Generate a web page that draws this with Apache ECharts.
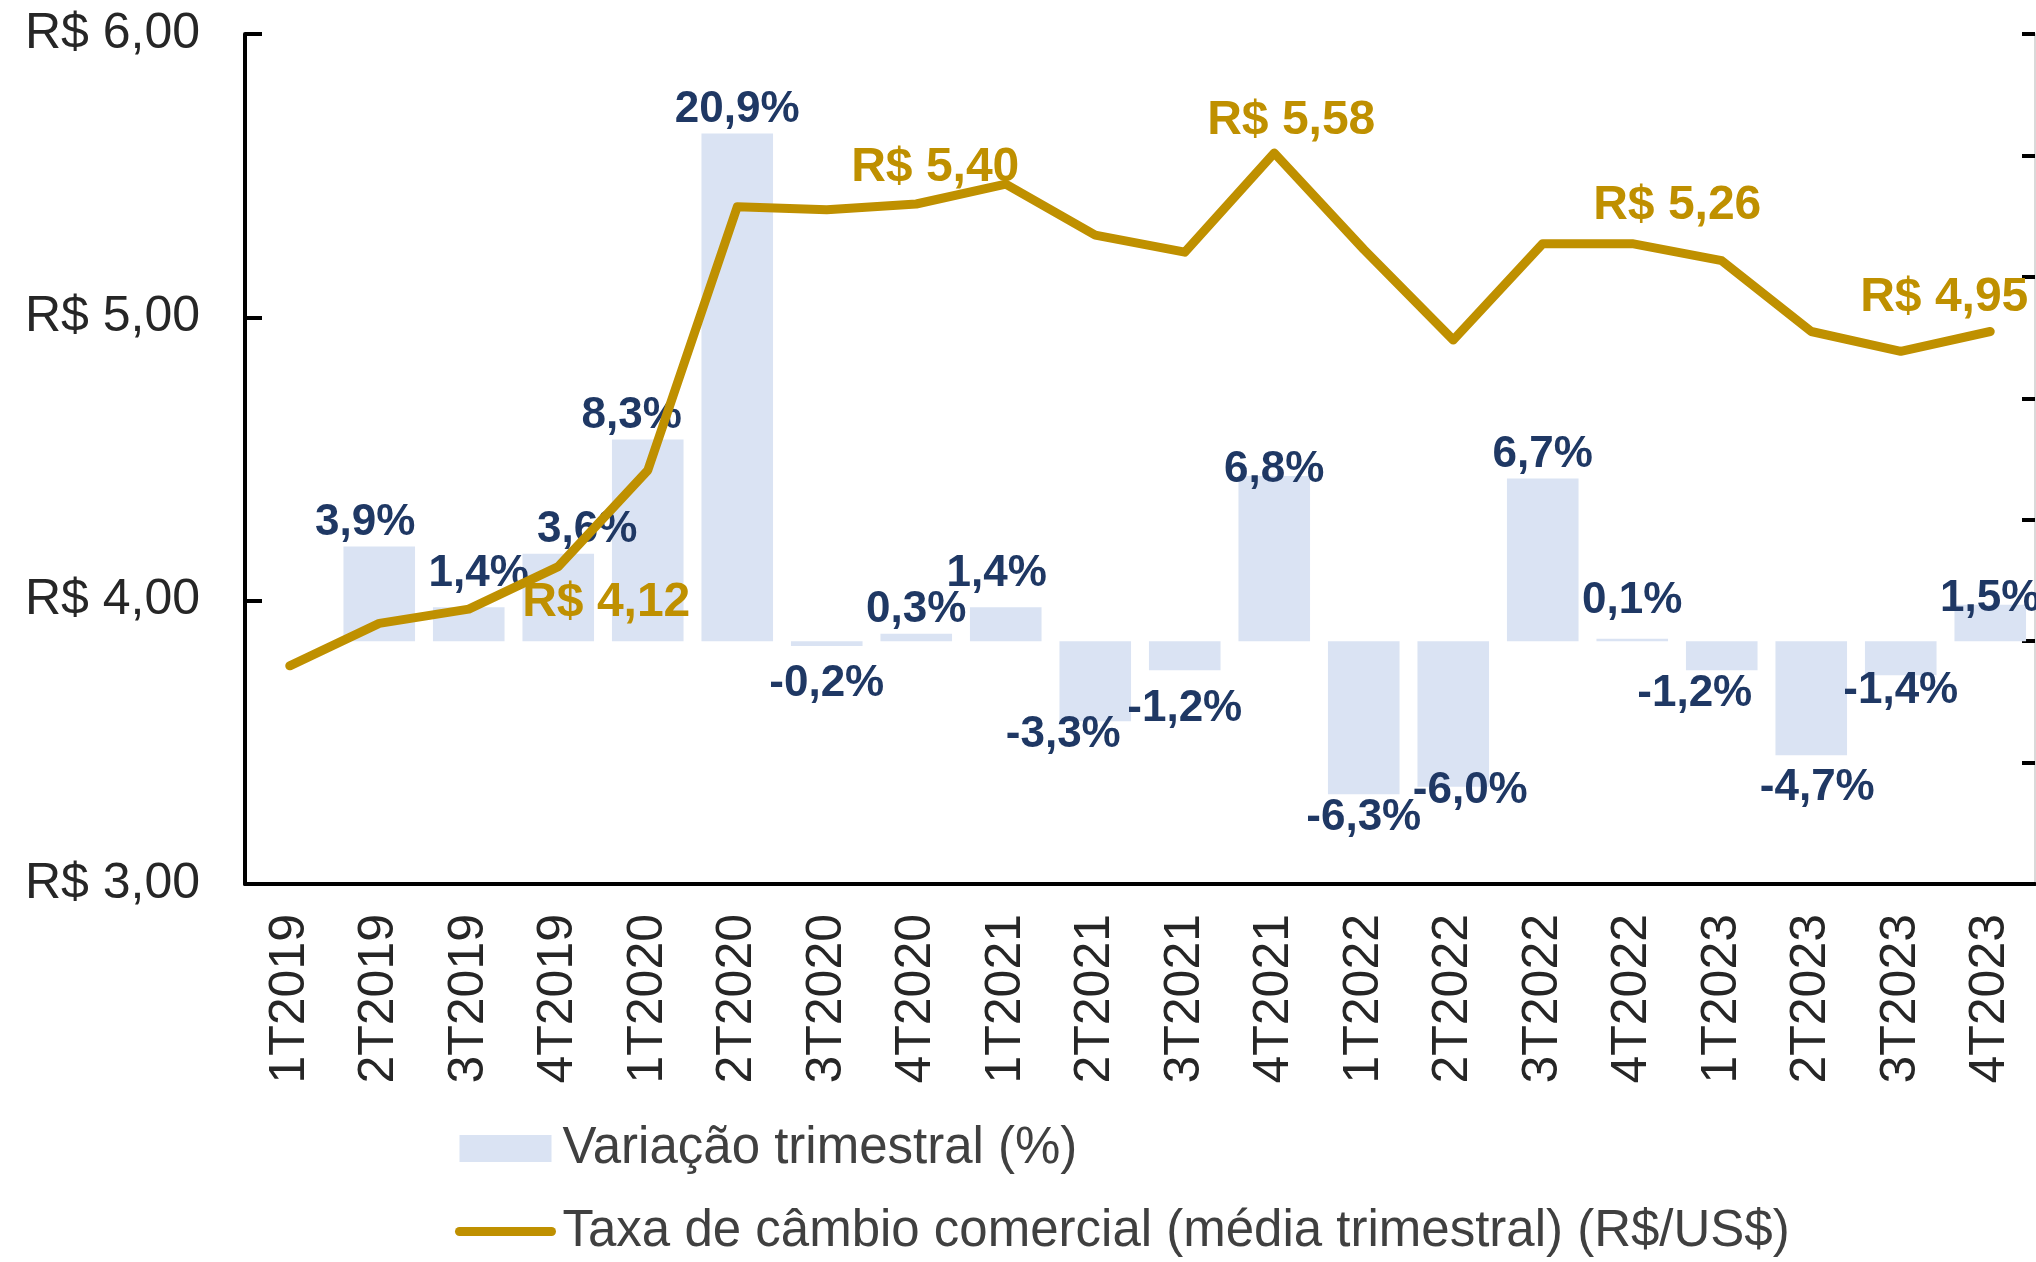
<!DOCTYPE html>
<html>
<head>
<meta charset="utf-8">
<title>Câmbio trimestral</title>
<script src="https://cdn.jsdelivr.net/npm/echarts@6/dist/echarts.min.js"></script>
<style>
  html, body { margin: 0; padding: 0; background: #fff; }
  #chart { width: 2036px; height: 1262px; }
</style>
</head>
<body>
<div id="chart"></div>
<script>
// trimestres
var categories = [
  "1T2019", "2T2019", "3T2019", "4T2019",
  "1T2020", "2T2020", "3T2020", "4T2020",
  "1T2021", "2T2021", "3T2021", "4T2021",
  "1T2022", "2T2022", "3T2022", "4T2022",
  "1T2023", "2T2023", "3T2023", "4T2023"
];
// variação trimestral (%)
var variacao = [
  null, 3.9, 1.4, 3.6,
  8.3, 20.9, -0.2, 0.3,
  1.4, -3.3, -1.2, 6.8,
  -6.3, -6.0, 6.7, 0.1,
  -1.2, -4.7, -1.4, 1.5
];
// taxa de câmbio média do trimestre (R$/US$)
var cambio = [
  3.77, 3.92, 3.97, 4.12,
  4.46, 5.39, 5.38, 5.40,
  5.47, 5.29, 5.23, 5.58,
  5.24, 4.92, 5.26, 5.26,
  5.20, 4.95, 4.88, 4.95
];
var leftTicks = [3, 4, 5, 6];
var rightTicks = [-10, 25];

var nomeBarra = "Variação trimestral (%)";
var nomeLinha = "Taxa de câmbio comercial (média trimestral) (R$/US$)";

var FONT = "'Liberation Sans', Arial, sans-serif";
var GOLD = "#BF9000";
var NAVY = "#1F3864";

// ajustes manuais dos rótulos (como no original)
var barNudge = {
  "2T2019": [-14, 0], "3T2019": [10, -9], "4T2019": [29, 0], "1T2020": [-16, 0],
  "3T2020": [0, 14], "1T2021": [-9, -9], "2T2021": [-32, -10], "3T2021": [0, 15],
  "4T2021": [0, 18], "2T2022": [17, -20], "4T2022": [0, -14], "1T2023": [-27, 0],
  "2T2023": [6, 9], "3T2023": [0, -8], "4T2023": [0, 18]
};
var lineNudge = {
  "4T2019": [48, 68], "4T2020": [19, -4], "4T2021": [17, 0],
  "4T2022": [45, -6], "4T2023": [-46, -2]
};

function brNum(v, d) {
  return v.toFixed(d).replace(".", ",");
}

var barData = variacao.map(function (v, i) {
  var item = { value: v };
  var n = barNudge[categories[i]];
  if (n) item.label = { offset: n };
  return item;
});

// só os 4º trimestres levam rótulo
var lineData = cambio.map(function (v, i) {
  var item = { value: v };
  var n = lineNudge[categories[i]];
  if (n) {
    item.symbol = "circle";
    item.symbolSize = 2;
    item.label = { show: true, offset: n };
  }
  return item;
});

var chart = echarts.init(document.getElementById("chart"), null, { renderer: "canvas" });

chart.setOption({
  animation: false,
  backgroundColor: "#fff",
  textStyle: { fontFamily: FONT },
  grid: { left: 245, right: 1, top: 34, bottom: 378 },
  legend: {
    orient: "vertical",
    left: 455,
    top: 1123,
    itemWidth: 92,
    itemHeight: 27,
    itemGap: 32,
    padding: 0,
    textStyle: { fontSize: 51, color: "#404040", fontFamily: FONT, padding: [0, 0, 0, 6] },
    data: [
      { name: nomeBarra, icon: "rect" },
      {
        name: nomeLinha,
        itemStyle: { opacity: 0 },
        lineStyle: { width: 9, color: GOLD, cap: "round" }
      }
    ]
  },
  xAxis: {
    type: "category",
    data: categories,
    boundaryGap: true,
    axisLine: { onZero: false, lineStyle: { color: "#000", width: 4 } },
    axisTick: { show: false },
    axisLabel: { rotate: 90, fontSize: 50, color: "#262626", margin: 30, interval: 0 }
  },
  yAxis: [
    {
      type: "value",
      position: "left",
      min: leftTicks[0],
      max: leftTicks[leftTicks.length - 1],
      interval: 1,
      axisLine: { show: true, lineStyle: { color: "#000", width: 4 } },
      axisTick: { show: true, inside: true, length: 17, lineStyle: { color: "#000", width: 4 } },
      axisLabel: {
        fontSize: 50, color: "#262626", margin: 45,
        formatter: function (v) { return "R$ " + brNum(v, 2); }
      },
      splitLine: { show: false }
    },
    {
      type: "value",
      position: "right",
      min: rightTicks[0],
      max: rightTicks[1],
      interval: 5,
      axisLine: { show: true, lineStyle: { color: "#d9d9d9", width: 2 } },
      axisTick: { show: true, inside: true, length: 13, lineStyle: { color: "#000", width: 4 } },
      axisLabel: { show: false },
      splitLine: { show: false }
    }
  ],
  series: [
    {
      name: nomeBarra,
      type: "bar",
      yAxisIndex: 1,
      barCategoryGap: "20%",
      itemStyle: { color: "#DAE3F3" },
      label: {
        show: true,
        position: "outside",
        distance: 2,
        fontSize: 44,
        fontWeight: "bold",
        color: NAVY,
        fontFamily: FONT,
        formatter: function (p) { return brNum(p.value, 1) + "%"; }
      },
      data: barData,
      z: 2
    },
    {
      name: nomeLinha,
      type: "line",
      yAxisIndex: 0,
      symbol: "none",
      showSymbol: true,
      lineStyle: { color: GOLD, width: 9, cap: "round", join: "round" },
      itemStyle: { color: GOLD },
      label: {
        show: false,
        position: "top",
        distance: 7,
        fontSize: 48,
        fontWeight: "bold",
        color: GOLD,
        fontFamily: FONT,
        formatter: function (p) { return "R$ " + brNum(p.value, 2); }
      },
      data: lineData,
      z: 3
    }
  ]
});

window.addEventListener("resize", function () {
  chart.resize();
});
</script>
</body>
</html>
